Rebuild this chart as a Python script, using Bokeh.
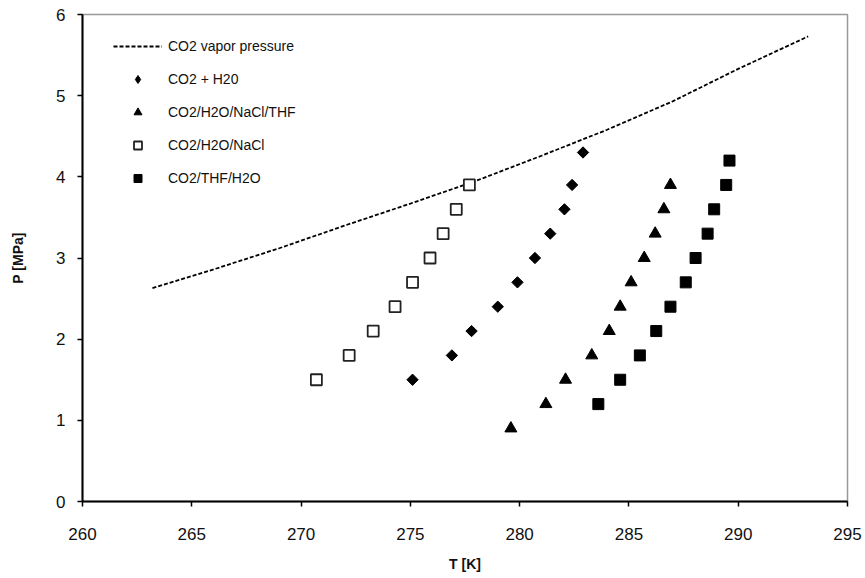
import math
from bokeh.plotting import figure
from bokeh.models import Range1d, FixedTicker, Legend, LegendItem
from bokeh.embed import file_html
from bokeh.resources import INLINE

# CO2 vapor pressure curve
vp_T = [263.2, 266.0, 269.0, 272.0, 275.0, 278.0, 281.0, 284.0, 287.0, 290.0, 293.2]
vp_P = [2.63, 2.86, 3.12, 3.40, 3.67, 3.95, 4.26, 4.58, 4.93, 5.33, 5.73]

# CO2 + H2O
h2o_T = [275.1, 276.9, 277.8, 279.0, 279.9, 280.7, 281.4, 282.05, 282.4, 282.9]
h2o_P = [1.50, 1.80, 2.10, 2.40, 2.70, 3.00, 3.30, 3.60, 3.90, 4.30]

# CO2/H2O/NaCl/THF
nacl_thf_T = [279.6, 281.2, 282.1, 283.3, 284.1, 284.6, 285.1, 285.7, 286.2, 286.6, 286.9]
nacl_thf_P = [0.90, 1.20, 1.50, 1.80, 2.10, 2.40, 2.70, 3.00, 3.30, 3.60, 3.90]

# CO2/H2O/NaCl
nacl_T = [270.7, 272.2, 273.3, 274.3, 275.1, 275.9, 276.5, 277.1, 277.7]
nacl_P = [1.50, 1.80, 2.10, 2.40, 2.70, 3.00, 3.30, 3.60, 3.90]

# CO2/THF/H2O
thf_T = [283.6, 284.6, 285.5, 286.25, 286.9, 287.6, 288.05, 288.6, 288.9, 289.45, 289.6]
thf_P = [1.20, 1.50, 1.80, 2.10, 2.40, 2.70, 3.00, 3.30, 3.60, 3.90, 4.20]

x_ticks = [260, 265, 270, 275, 280, 285, 290, 295]
y_ticks = [0, 1, 2, 3, 4, 5, 6]

FONT = "Liberation Sans"

p = figure(width=865, height=578, output_backend="svg", toolbar_location=None,
           x_range=Range1d(260, 295), y_range=Range1d(0, 6),
           min_border_left=82, min_border_right=18, min_border_top=14, min_border_bottom=77)

p.xgrid.visible = False
p.ygrid.visible = False
p.outline_line_color = "#999999"
p.outline_line_width = 1.5
p.background_fill_color = "white"
p.border_fill_color = "white"

for ax, ticks in ((p.xaxis[0], x_ticks), (p.yaxis[0], y_ticks)):
    ax.ticker = FixedTicker(ticks=ticks)
    ax.minor_tick_line_color = None
    ax.axis_line_color = "black"
    ax.axis_line_width = 2
    ax.major_tick_line_color = "black"
    ax.major_tick_line_width = 1.5
    ax.major_tick_in = 0
    ax.major_tick_out = 5
    ax.major_label_text_font = FONT
    ax.major_label_text_font_size = "17px"
    ax.major_label_text_color = "#111111"
    ax.axis_label_text_font = FONT
    ax.axis_label_text_font_size = "14px"
    ax.axis_label_text_font_style = "bold"
    ax.axis_label_text_color = "#111111"

p.xaxis.axis_label = "T [K]"
p.yaxis.axis_label = "P [MPa]"
p.xaxis.major_label_standoff = 21
p.yaxis.major_label_standoff = 12
p.xaxis.axis_label_standoff = 13
p.yaxis.axis_label_standoff = 27

r_vp = p.line(vp_T, vp_P, line_color="black", line_width=1.8, line_dash="4 2")
r_h2o = p.scatter(h2o_T, h2o_P, marker="square", angle=math.pi / 4, size=8,
                  fill_color="black", line_color="black")
# legend swatch for the diamonds (legend ignores marker rotation); hidden on the plot
r_h2o_key = p.scatter(h2o_T, h2o_P, marker="diamond", size=13, fill_color="black",
                      line_color="black", visible=False)
r_nt = p.scatter(nacl_thf_T, nacl_thf_P, marker="triangle", size=12, fill_color="black", line_color="black")
r_nacl = p.scatter(nacl_T, nacl_P, marker="square", size=11, fill_color="white", line_color="#222222", line_width=1.8)
r_thf = p.scatter(thf_T, thf_P, marker="square", size=11, fill_color="black", line_color="black")

legend = Legend(items=[
    LegendItem(label="CO2 vapor pressure", renderers=[r_vp]),
    LegendItem(label="CO2 + H20", renderers=[r_h2o_key]),
    LegendItem(label="CO2/H2O/NaCl/THF", renderers=[r_nt]),
    LegendItem(label="CO2/H2O/NaCl", renderers=[r_nacl]),
    LegendItem(label="CO2/THF/H2O", renderers=[r_thf]),
], location=(31, 313))
legend.border_line_color = None
legend.background_fill_alpha = 0
legend.margin = 0
legend.padding = 10
legend.spacing = 13
legend.glyph_width = 49
legend.glyph_height = 20
legend.label_standoff = 6
legend.label_text_font = FONT
legend.label_text_font_size = "14px"
legend.label_text_color = "#111111"
p.add_layout(legend)

open("out.html", "w").write(file_html(p, INLINE))
